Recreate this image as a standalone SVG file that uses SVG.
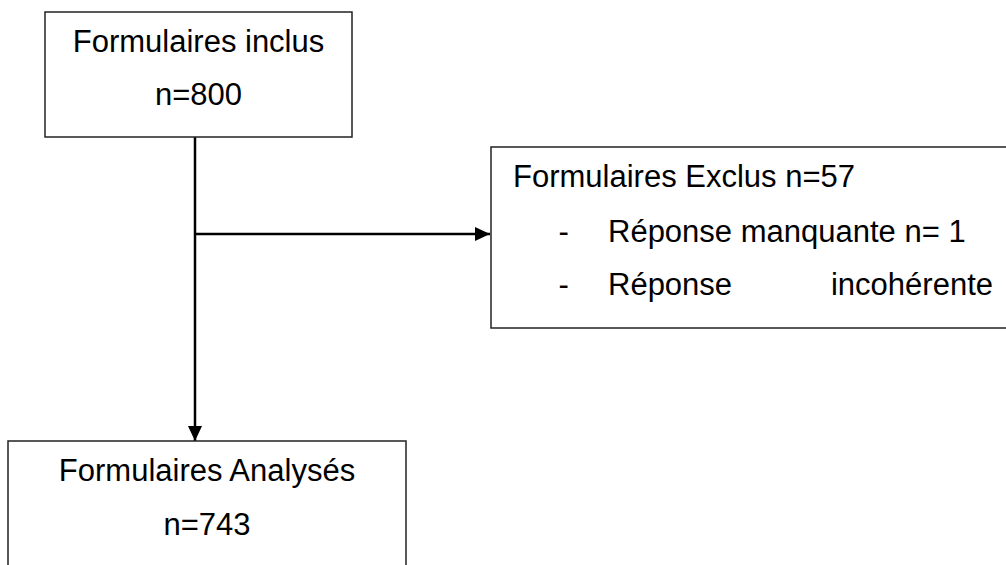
<svg xmlns="http://www.w3.org/2000/svg" width="1006" height="565" viewBox="0 0 1006 565">
  <style>
    .box { fill: #ffffff; stroke: #222222; stroke-width: 1.5; }
    .t { font-family: "Liberation Sans", Arial, sans-serif; font-size: 31px; fill: #000000; }
    .c { text-anchor: middle; }
    .conn { stroke: #000000; stroke-width: 2.5; fill: none; }
  </style>
  <defs>
    <marker id="arrow" markerUnits="userSpaceOnUse" markerWidth="15" markerHeight="14" refX="15" refY="7" orient="auto">
      <path d="M0,0 L15,7 L0,14 Z" fill="#000000"/>
    </marker>
  </defs>
  <rect width="1006" height="565" fill="#ffffff"/>

  <g id="connectors">
    <line class="conn" x1="195" y1="137" x2="195" y2="441" marker-end="url(#arrow)"/>
    <line class="conn" x1="195" y1="234" x2="490" y2="234" marker-end="url(#arrow)"/>
  </g>

  <g id="node-inclus">
    <rect class="box" x="45" y="12" width="307" height="125"/>
    <text class="t c" x="198.5" y="52">Formulaires inclus</text>
    <text class="t c" x="198.5" y="105">n=800</text>
  </g>

  <g id="node-exclus">
    <rect class="box" x="491" y="147" width="530" height="181"/>
    <text class="t" x="513" y="187">Formulaires Exclus n=57</text>
    <text class="t" x="558.5" y="242">-</text>
    <text class="t" x="608" y="242">Réponse manquante n= 1</text>
    <text class="t" x="558.5" y="295">-</text>
    <text class="t" x="608" y="295">Réponse</text>
    <text class="t" x="993" y="295" text-anchor="end">incohérente</text>
  </g>

  <g id="node-analyses">
    <rect class="box" x="8" y="441" width="398" height="140"/>
    <text class="t c" x="207" y="481">Formulaires Analysés</text>
    <text class="t c" x="207" y="535">n=743</text>
  </g>
</svg>
